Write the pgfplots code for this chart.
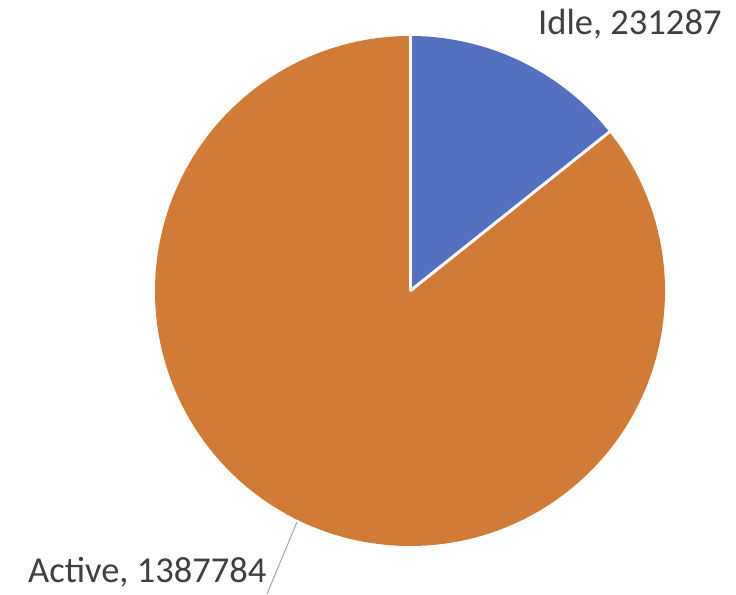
\documentclass[border=0pt]{standalone}
\usepackage{pgfplots}
\usepackage{pgfplotstable}
\pgfplotsset{compat=1.18}
\usepackage{fontspec}
\setmainfont{Carlito}
\definecolor{pieblue}{HTML}{5470C1}
\definecolor{pieorange}{HTML}{D27B37}
\definecolor{labeltext}{HTML}{404040}
\definecolor{leader}{HTML}{A6A6A6}

\pgfplotstableread{
label value
Idle 231287
Active 1387784
}\piedata
\pgfplotstablegetelem{0}{value}\of\piedata \edef\vIdle{\pgfplotsretval}
\pgfplotstablegetelem{1}{value}\of\piedata \edef\vActive{\pgfplotsretval}
\pgfkeys{/pgf/fpu=true,/pgf/fpu/output format=fixed}
\pgfmathsetmacro{\sIdle}{360*\vIdle/(\vIdle+\vActive)}
\pgfkeys{/pgf/fpu=false}
\pgfmathsetmacro{\bnd}{90-\sIdle}

\begin{document}
\begin{tikzpicture}
\begin{axis}[
  width=736bp, height=594bp, scale only axis,
  xmin=0, xmax=736, ymin=0, ymax=594,
  hide axis, clip=false,
]
\path (axis cs:0,0) rectangle (axis cs:736,594);
% Idle slice
\fill[pieblue] (axis cs:410,303) -- ++(90:255bp) arc[start angle=90, end angle=\bnd, radius=255bp] -- cycle;
% Active slice
\fill[pieorange] (axis cs:410,303) -- ++(\bnd:255bp) arc[start angle=\bnd, end angle=-270, radius=255bp] -- cycle;
% white separators
\draw[white, line width=3bp] (axis cs:410,303) -- ++(90:255bp);
\draw[white, line width=3bp] (axis cs:410,303) -- ++(\bnd:255bp);
% leader line
\draw[leader, line width=1bp] (axis cs:267,0) -- (axis cs:297,72);
% labels
\node[anchor=base west, inner sep=0pt, text=labeltext, font=\fontsize{36.5bp}{42bp}\selectfont] at (axis cs:538,559) {Idle, 231287};
\node[anchor=base west, inner sep=0pt, text=labeltext, font=\fontsize{36.5bp}{42bp}\selectfont] at (axis cs:28,12) {Active, 1387784};
\end{axis}
\end{tikzpicture}
\end{document}
